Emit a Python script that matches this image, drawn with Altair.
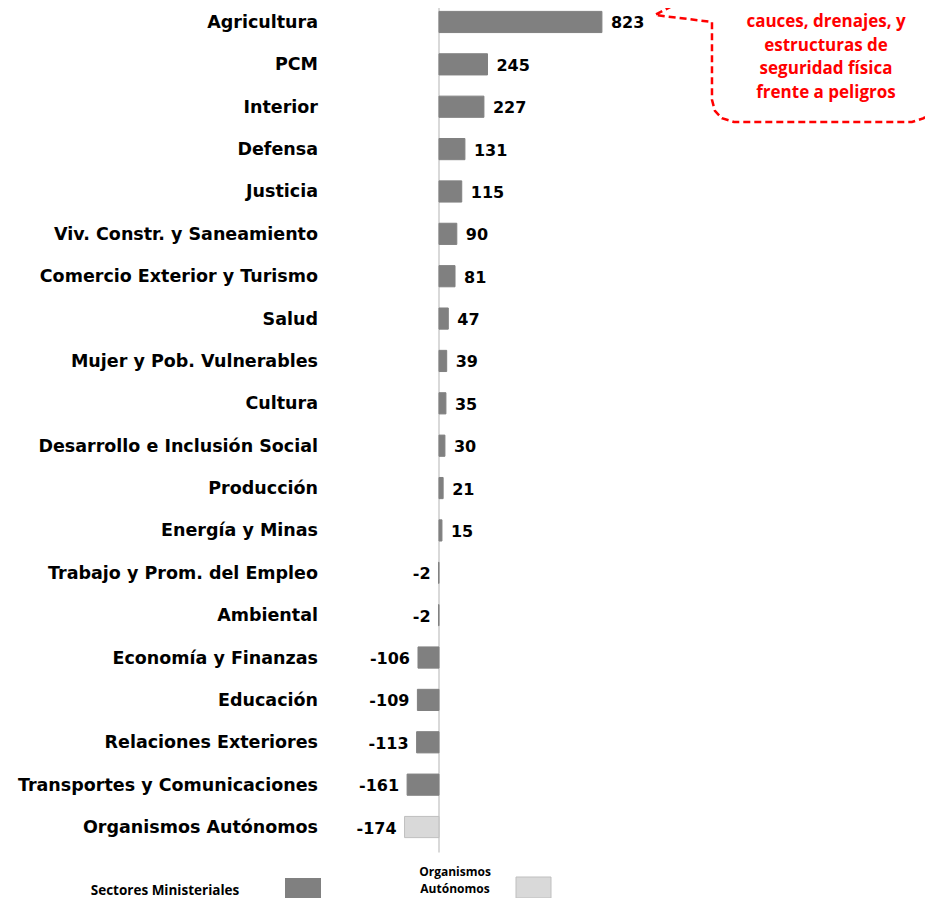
import altair as alt
import pandas as pd

categories = [
    "Agricultura", "PCM", "Interior", "Defensa", "Justicia",
    "Viv. Constr. y Saneamiento", "Comercio Exterior y Turismo", "Salud",
    "Mujer y Pob. Vulnerables", "Cultura", "Desarrollo e Inclusión Social",
    "Producción", "Energía y Minas", "Trabajo y Prom. del Empleo", "Ambiental",
    "Economía y Finanzas", "Educación", "Relaciones Exteriores",
    "Transportes y Comunicaciones", "Organismos Autónomos",
]
values = [823, 245, 227, 131, 115, 90, 81, 47, 39, 35, 30, 21, 15, -2, -2,
          -106, -109, -113, -161, -174]
groups = ["Sectores Ministeriales"] * 19 + ["Organismos Autónomos"]

# Callout annotation (x in value units, y in row units)
callout_x = [1379, 1379, 1091, 1379, 1379, 1394, 1429, 1490, 2389, 2449, 2485, 2500, 2500]
callout_y = [-2.4, -0.87, -0.165, 0.0, 1.84, 2.1, 2.27, 2.36, 2.36, 2.27, 2.1, 1.84, -2.4]
callout_lines = ["cauces, drenajes, y", "estructuras de", "seguridad física", "frente a peligros"]
callout_line_y = [0.0, 0.56, 1.12, 1.68]
callout_text_x = 1955

df = pd.DataFrame({"cat": categories, "value": values, "group": groups,
                   "idx": list(range(len(categories)))})
df["y0"] = df["idx"] - 0.25
df["y1"] = df["idx"] + 0.25
df["lab"] = [str(v) for v in values]

W, H = 917, 890
xscale = alt.Scale(domain=[-2177, 2455], nice=False, zero=False)
yscale = alt.Scale(domain=[-0.33, 20.675], nice=False, zero=False, reverse=True)

base = alt.Chart(df)

bars = base.mark_rect(strokeWidth=1).encode(
    x=alt.X("value:Q", scale=xscale, axis=None),
    x2=alt.datum(0),
    y=alt.Y("y0:Q", scale=yscale, axis=None),
    y2="y1:Q",
    fill=alt.condition(alt.datum.group == "Organismos Autónomos",
                       alt.value("#d9d9d9"), alt.value("#808080")),
    stroke=alt.condition(alt.datum.group == "Organismos Autónomos",
                         alt.value("#bfbfbf"), alt.value("#808080")),
)

zero_df = pd.DataFrame({"x": [0], "ya": [-0.6], "yb": [19.6]})
zero_rule = alt.Chart(zero_df).mark_rule(color="#d9d9d9", strokeWidth=2).encode(
    x=alt.X("x:Q", scale=xscale, axis=None),
    y=alt.Y("ya:Q", scale=yscale, axis=None),
    y2="yb:Q",
)

cat_labels = base.mark_text(align="right", baseline="middle", font="DejaVu Sans",
                            fontWeight="bold", fontSize=17.5, dy=1,
                            color="#000000").encode(
    x=alt.value(310),
    y=alt.Y("idx:Q", scale=yscale, axis=None),
    text="cat:N",
)

pos_labels = base.transform_filter(alt.datum.value >= 0).mark_text(
    align="left", baseline="middle", dx=9, dy=1.5, font="DejaVu Sans", fontWeight="bold",
    fontSize=16, color="#000000").encode(
    x=alt.X("value:Q", scale=xscale, axis=None),
    y=alt.Y("idx:Q", scale=yscale, axis=None),
    text="lab:N",
)
neg_labels = base.transform_filter(alt.datum.value < 0).mark_text(
    align="right", baseline="middle", dx=-8, dy=1.5, font="DejaVu Sans", fontWeight="bold",
    fontSize=16, color="#000000").encode(
    x=alt.X("value:Q", scale=xscale, axis=None),
    y=alt.Y("idx:Q", scale=yscale, axis=None),
    text="lab:N",
)

c_df = pd.DataFrame({"x": callout_x, "y": callout_y, "o": list(range(len(callout_x)))})
callout = alt.Chart(c_df).mark_line(color="#ff0000", strokeWidth=2.5,
                                    strokeDash=[7, 4]).encode(
    x=alt.X("x:Q", scale=xscale, axis=None),
    y=alt.Y("y:Q", scale=yscale, axis=None),
    order="o:Q",
)
t_df = pd.DataFrame({"t": callout_lines, "y": callout_line_y, "x": [callout_text_x] * 4})
callout_text = alt.Chart(t_df).mark_text(align="center", baseline="middle",
                                         font="Open Sans", fontWeight="bold",
                                         fontSize=17, color="#ff0000").encode(
    x=alt.X("x:Q", scale=xscale, axis=None),
    y=alt.Y("y:Q", scale=yscale, axis=None),
    text="t:N",
)

one = pd.DataFrame({"a": [0]})
leg_rect1 = alt.Chart(one).mark_rect(fill="#808080").encode(
    x=alt.value(277), x2=alt.value(313), y=alt.value(870), y2=alt.value(892))
leg_rect2 = alt.Chart(one).mark_rect(fill="#d9d9d9", stroke="#bfbfbf", strokeWidth=1).encode(
    x=alt.value(508), x2=alt.value(543), y=alt.value(869), y2=alt.value(890))
leg_text1 = alt.Chart(one).mark_text(align="center", baseline="middle", font="Open Sans",
                                     fontWeight="bold", fontSize=13.5, color="#000000").encode(
    x=alt.value(157), y=alt.value(883), text=alt.value("Sectores Ministeriales"))
leg_text2a = alt.Chart(one).mark_text(align="center", baseline="middle", font="Open Sans",
                                      fontWeight="bold", fontSize=12, color="#000000").encode(
    x=alt.value(447), y=alt.value(864), text=alt.value("Organismos"))
leg_text2b = alt.Chart(one).mark_text(align="center", baseline="middle", font="Open Sans",
                                      fontWeight="bold", fontSize=12, color="#000000").encode(
    x=alt.value(447), y=alt.value(881), text=alt.value("Autónomos"))

chart = alt.layer(
    zero_rule, bars, cat_labels, pos_labels, neg_labels, callout, callout_text,
    leg_rect1, leg_rect2, leg_text1, leg_text2a, leg_text2b,
).properties(
    width=W, height=H,
    autosize=alt.AutoSizeParams(type="none"),
    padding=0,
).configure_view(stroke=None)

chart.save("out.html", embed_options={"renderer": "svg", "actions": False})
